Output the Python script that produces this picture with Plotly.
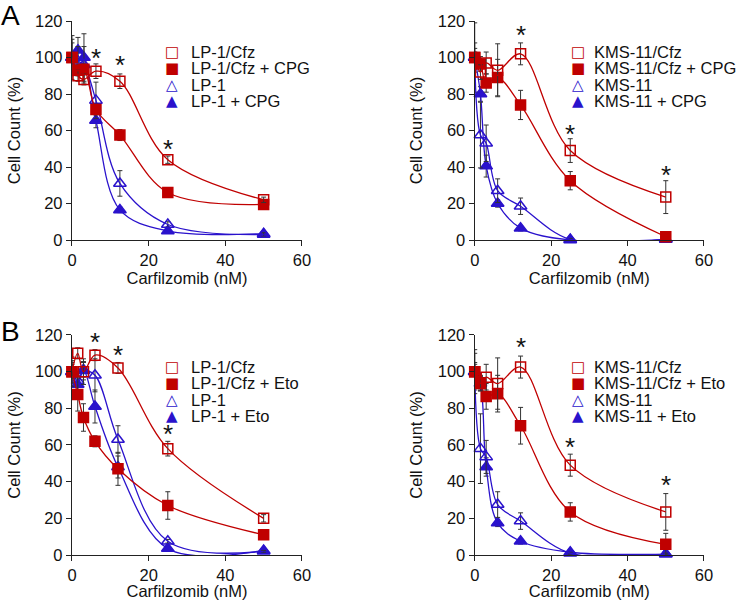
import plotly.graph_objects as go

RED = "#C00000"
BLUE = "#2A12CC"
FONT = "Liberation Sans, Arial, sans-serif"

# ---------------- data ----------------
dose_a_lp = [0, 1.5625, 3.125, 6.25, 12.5, 25, 50]
dose = [0, 1.5, 3, 6, 12, 25, 50]

# Panel A left (LP-1, CPG)
a_lp_cfz = [100, 90, 88, 92.5, 87, 44, 22]
a_lp_cfz_err = [3, 3, 3, 4, 4, 2, 1.5]
a_lp_cfz_cpg = [100, 93, 93.5, 71.5, 57.5, 26, 19.5]
a_lp_cfz_cpg_err = [10, 3, 3, 3, 3, 1.5, 1.5]
a_lp = [100, 98, 96, 76.5, 31, 8.5, 3]
a_lp_err = [12, 8, 10, 10, 7, 1.5, 1]
a_lp_cpg = [100, 104, 100, 65.5, 16.5, 5, 3.5]
a_lp_cpg_err = [8, 7, 13, 4, 1.5, 1, 1]
a_star_x = [6.3, 12.5, 25]
a_star_y = [101, 97, 51]

# Panel A right (KMS-11, CPG)
a_kms_cfz = [100, 92, 97, 93, 102, 49, 23.5]
a_kms_cfz_err = [8, 4, 6, 14.5, 6, 6.5, 9]
a_kms_cfz_cpg = [100, 96.5, 86, 89, 74, 32.5, 1.8]
a_kms_cfz_cpg_err = [3, 4, 5, 10, 8, 5, 1.5]
a_kms = [100, 57.5, 53, 27, 18.5, 0.3, 0.5]
a_kms_err = [19, 18, 10, 6.5, 4.5, 0.5, 0.5]
a_kms_cpg = [100, 80, 40.5, 20, 6.5, 0, 0.3]
a_kms_cpg_err = [5, 4, 6, 2, 1.5, 0.3, 0.3]
a2_star_x = [12, 25, 50]
a2_star_y = [113.5, 59, 36.5]

# Panel B left (LP-1, Eto)
b_lp_cfz = [100, 110, 100, 109, 102, 58, 20]
b_lp_cfz_err = [8, 3, 7, 3, 3, 4, 2]
b_lp_cfz_eto = [100, 87.5, 75, 62, 47, 27, 11]
b_lp_cfz_eto_err = [6, 9, 7.5, 3, 9, 7.5, 2]
b_lp = [100, 95, 100.5, 98, 63, 7.5, 2]
b_lp_err = [5, 5, 5, 9, 7.5, 1, 0.5]
b_lp_eto = [100, 93, 101, 81, 48, 3.5, 2.5]
b_lp_eto_err = [4, 5, 4, 9, 6, 1, 0.5]
b_star_x = [6, 12, 25]
b_star_y = [117, 110, 67]

# Panel B right (KMS-11, Eto)
b_kms_cfz = [100, 93.5, 97, 93.5, 102.5, 49, 23.5]
b_kms_cfz_err = [12, 4, 7, 14, 6, 6, 10]
b_kms_cfz_eto = [100, 94, 86.5, 88, 70.5, 23.5, 5.8]
b_kms_cfz_eto_err = [5, 4, 7, 10, 10, 5, 6]
b_kms = [100, 58, 53.5, 27.5, 18.5, 1, 0.5]
b_kms_err = [10, 19, 9, 7, 4.5, 0.5, 0.5]
b_kms_eto = [100, 93.5, 48, 17.5, 7.5, 1.5, 0.5]
b_kms_eto_err = [4, 4, 5, 2, 1.5, 0.5, 0.5]
b2_star_x = [12, 25, 50]
b2_star_y = [114.5, 60, 39]

x_ticks = [0, 20, 40, 60]
y_ticks = [0, 20, 40, 60, 80, 100, 120]

panels = [
    dict(ax="", x=dose_a_lp, stars=(a_star_x, a_star_y),
         series=[(a_lp_cpg, a_lp_cpg_err, "LP-1 + CPG", "triangle-up", BLUE),
                 (a_lp, a_lp_err, "LP-1", "triangle-up-open", BLUE),
                 (a_lp_cfz_cpg, a_lp_cfz_cpg_err, "LP-1/Cfz + CPG", "square", RED),
                 (a_lp_cfz, a_lp_cfz_err, "LP-1/Cfz", "square-open", RED)]),
    dict(ax="2", x=dose, stars=(a2_star_x, a2_star_y),
         series=[(a_kms_cpg, a_kms_cpg_err, "KMS-11 + CPG", "triangle-up", BLUE),
                 (a_kms, a_kms_err, "KMS-11", "triangle-up-open", BLUE),
                 (a_kms_cfz_cpg, a_kms_cfz_cpg_err, "KMS-11/Cfz + CPG", "square", RED),
                 (a_kms_cfz, a_kms_cfz_err, "KMS-11/Cfz", "square-open", RED)]),
    dict(ax="3", x=dose, stars=(b_star_x, b_star_y),
         series=[(b_lp_eto, b_lp_eto_err, "LP-1 + Eto", "triangle-up", BLUE),
                 (b_lp, b_lp_err, "LP-1", "triangle-up-open", BLUE),
                 (b_lp_cfz_eto, b_lp_cfz_eto_err, "LP-1/Cfz + Eto", "square", RED),
                 (b_lp_cfz, b_lp_cfz_err, "LP-1/Cfz", "square-open", RED)]),
    dict(ax="4", x=dose, stars=(b2_star_x, b2_star_y),
         series=[(b_kms_eto, b_kms_eto_err, "KMS-11 + Eto", "triangle-up", BLUE),
                 (b_kms, b_kms_err, "KMS-11", "triangle-up-open", BLUE),
                 (b_kms_cfz_eto, b_kms_cfz_eto_err, "KMS-11/Cfz + Eto", "square", RED),
                 (b_kms_cfz, b_kms_cfz_err, "KMS-11/Cfz", "square-open", RED)]),
]

# layout geometry (paper fractions)
x_domains = {"": [0.0978, 0.4103], "2": [0.6450, 0.9565],
             "3": [0.0978, 0.4103], "4": [0.6450, 0.9565]}
y_domains = {"": [0.600, 0.965], "2": [0.600, 0.965],
             "3": [0.075, 0.4417], "4": [0.075, 0.4417]}
legend_pos = {"": (171.7, 188.5, 52), "2": (578, 592, 52),
              "3": (171.7, 188.5, 367), "4": (578, 592, 367)}
ROW = 16.3
FS = 16.5

fig = go.Figure()
annotations = []

for p in panels:
    ax = p["ax"]
    for vals, err, name, sym, col in p["series"]:
        is_tri = sym.startswith("triangle")
        fig.add_trace(go.Scatter(
            x=p["x"], y=vals, name=name, mode="lines+markers",
            xaxis="x" + ax, yaxis="y" + ax,
            line=dict(color=col, width=1.3, shape="spline", smoothing=1.0),
            marker=dict(symbol=sym, size=11 if is_tri else 10, color=col,
                        line=dict(color=col, width=1.5)),
            error_y=dict(type="data", array=err, visible=True,
                         color="#333333", thickness=1, width=2.5),
            cliponaxis=False, showlegend=False, hoverinfo="skip",
        ))
    sx, sy = p["stars"]
    for xv, yv in zip(sx, sy):
        annotations.append(dict(x=xv, y=yv, xref="x" + ax, yref="y" + ax,
                                text="*", showarrow=False, yshift=-2,
                                font=dict(family=FONT, size=26, color="#111111")))
    # legend (text-based)
    mx, tx, ty = legend_pos[ax]
    glyphs = [("\u25A1", RED), ("\u25A0", RED), ("\u25B3", BLUE), ("\u25B2", BLUE)]
    names = [s[2] for s in reversed(p["series"])]
    for i, ((g, col), nm) in enumerate(zip(glyphs, names)):
        yy = 1 - (ty + i * ROW) / 600
        annotations.append(dict(x=mx / 736, y=yy, xref="paper", yref="paper",
                                text=g, showarrow=False, xanchor="center", yanchor="middle",
                                font=dict(family="DejaVu Sans", size=15, color=col)))
        annotations.append(dict(x=tx / 736, y=yy, xref="paper", yref="paper",
                                text=nm, showarrow=False, xanchor="left", yanchor="middle",
                                font=dict(family=FONT, size=FS, color="#111111")))

    axis_common = dict(showline=True, linecolor="#222222", linewidth=1.3,
                       ticks="outside", ticklen=5, tickwidth=1.2, tickcolor="#222222",
                       showgrid=False, zeroline=False, automargin=False,
                       tickfont=dict(family=FONT, size=FS, color="#111111"))
    fig.update_layout(**{
        "xaxis" + ax: dict(domain=x_domains[ax], range=[0, 60], tickvals=x_ticks,
                           anchor="y" + ax,
                           title=dict(text="Carfilzomib (nM)", standoff=4,
                                      font=dict(family=FONT, size=FS, color="#111111")),
                           **axis_common),
        "yaxis" + ax: dict(domain=y_domains[ax], range=[0, 120], tickvals=y_ticks,
                           anchor="x" + ax,
                           title=dict(text="Cell Count (%)", standoff=10,
                                      font=dict(family=FONT, size=FS, color="#111111")),
                           **axis_common),
    })

annotations.append(dict(x=10 / 736, y=1 - 15 / 600, xref="paper", yref="paper", text="A",
                        xanchor="center", yanchor="middle", showarrow=False,
                        font=dict(family=FONT, size=28, color="#000000")))
annotations.append(dict(x=10 / 736, y=1 - 331 / 600, xref="paper", yref="paper", text="B",
                        xanchor="center", yanchor="middle", showarrow=False,
                        font=dict(family=FONT, size=28, color="#000000")))

fig.update_layout(width=736, height=600, margin=dict(l=0, r=0, t=0, b=0),
                  paper_bgcolor="white", plot_bgcolor="white",
                  annotations=annotations, showlegend=False, hovermode=False)

fig.write_html("out.html", config={"displayModeBar": False},
               post_script="document.body.style.margin='0';document.body.style.overflow='hidden';")
